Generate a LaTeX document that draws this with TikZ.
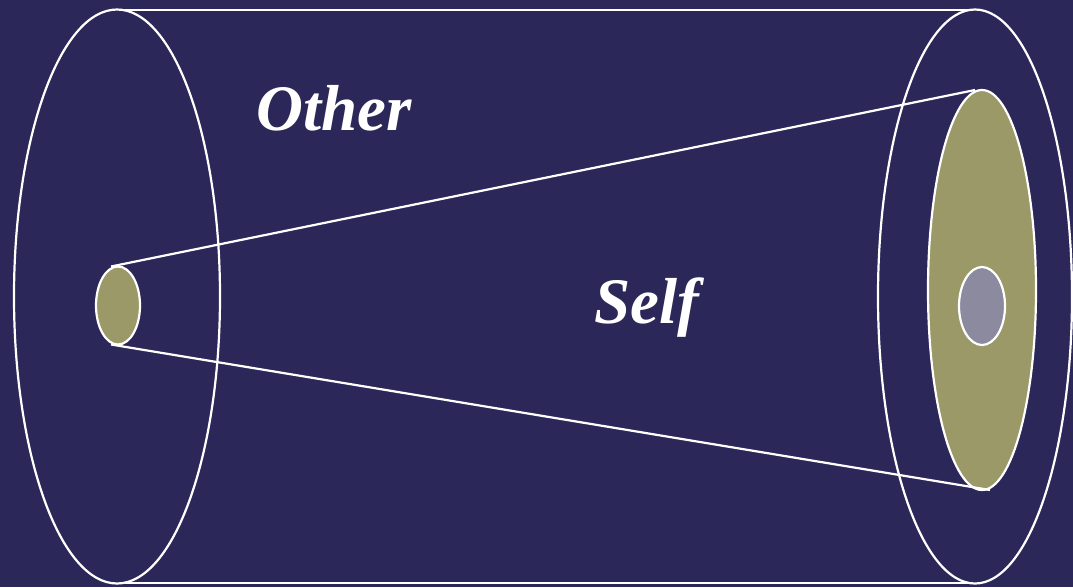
\documentclass[tikz,border=0pt]{standalone}
\usepackage{fontspec}
\setmainfont{Liberation Serif}
\usetikzlibrary{positioning}

\definecolor{fondo}{RGB}{43,40,89}
\definecolor{oliva}{RGB}{154,153,103}
\definecolor{gris}{RGB}{139,138,158}

\begin{document}
\begin{tikzpicture}[
    x=1pt, y=-1pt,
    % Definición global de estilos
    borde/.style = {draw=white, line width=2.2pt},
    nucleo/.style = {borde, fill=oliva},
    centro/.style = {borde, fill=gris},
    rotulo/.style = {text=white, font=\fontsize{65}{70}\selectfont\bfseries\itshape, inner sep=0pt}
]

% ===============================
% 1. Fondo
% ===============================
\fill [fondo] (0,0) rectangle (1073,587);
\useasboundingbox (0,0) rectangle (1073,587);

% ===============================
% 2. Cilindro exterior
% ===============================
\draw [borde] (117,296.5) ellipse [x radius=103, y radius=287];
\draw [borde] (975,296.5) ellipse [x radius=97, y radius=287];
\coordinate (supIzq) at (125,10);
\coordinate (supDer) at (973,10);
\coordinate (infIzq) at (125,583);
\coordinate (infDer) at (973,583);
\draw [borde, line width=1.8pt] (supIzq) -- (supDer);
\draw [borde, line width=1.8pt] (infIzq) -- (infDer);

% ===============================
% 3. Cono interior
% ===============================
\draw [nucleo] (118,305.5) ellipse [x radius=22, y radius=39];
\draw [nucleo] (982,290) ellipse [x radius=54, y radius=200];
\draw [centro] (982,306) ellipse [x radius=23, y radius=39];

\coordinate (conoSup) at (111,266.5);
\coordinate (conoInf) at (111,344.5);
\coordinate (bocaSup) at (975,90);
\coordinate (bocaInf) at (990,490);
\draw [borde] (conoSup) -- (bocaSup);
\draw [borde] (conoInf) -- (bocaInf);

% ===============================
% 4. Rótulos
% ===============================
\node (otro) [rotulo, anchor=base west] at (256,130) {Other};
\node (yo) [rotulo, anchor=base west] at (594,323) {Self};

\end{tikzpicture}
\end{document}
